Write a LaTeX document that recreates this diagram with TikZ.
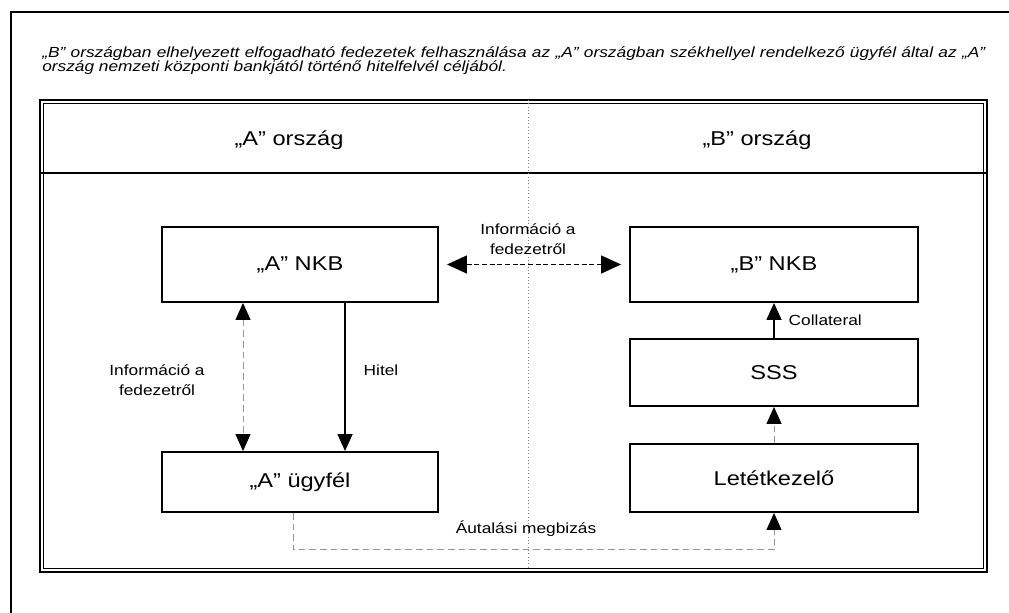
\documentclass[tikz,border=0pt]{standalone}
\usepackage{fontspec}
\setmainfont{Liberation Sans}[FakeStretch=1.18]
\usetikzlibrary{arrows.meta}

\tikzset{
  box/.style={draw, line width=1.4pt, inner sep=0pt, font=\fontsize{15}{18}\selectfont},
  head/.style={font=\fontsize{15}{18}\selectfont},
  lbl/.style={font=\fontsize{11}{15}\selectfont, align=center},
  bigtip/.style={{Triangle[length=15pt,width=13.5pt]}-{Triangle[length=15pt,width=13.5pt]}},
  tip/.style={-{Triangle[length=12.75pt,width=11.25pt,color=black]}},
  solidarrow/.style={tip, line width=1.1pt},
  grayarrow/.style={tip, line width=0.75pt, draw=gray!85, dash pattern=on 5pt off 3pt},
}

\begin{document}
\begin{tikzpicture}[x=0.75pt,y=-0.75pt]

        \useasboundingbox (0,0) rectangle (1009,613);

        % outer frame
        \draw[line width=2.2pt] (11,613) -- (11,12) -- (1009,12);

        % title
        \node[anchor=north west, inner sep=0pt, text width=707.25pt, align=justify,
              font=\fontsize{11}{11}\selectfont\itshape] (title) at (42,46)
          {„B” országban elhelyezett elfogadható fedezetek felhasználása az „A” országban székhellyel rendelkező ügyfél által az „A”\linebreak
           ország nemzeti központi bankjától történő hitelfelvél céljából.};

        % inner frame
        \draw[line width=1.8pt] (40,100) rectangle (987,572);
        \draw[line width=0.6pt] (43.5,103.5) rectangle (983.5,568.5);
        \draw[line width=2.2pt] (40,173) -- (987,173);
        \draw[gray, line width=0.5pt, dotted] (528,100) -- (528,567);

        \node[head] (countryA) at (289,140) {„A” ország};
        \node[head] (countryB) at (757,140) {„B” ország};

        % boxes
        \node[box, minimum width=207pt, minimum height=56.25pt] (nkbA) at (300,264.5) {„A” NKB};
        \node[box, minimum width=216pt, minimum height=56.25pt] (nkbB) at (774,264.5) {„B” NKB};
        \node[box, minimum width=216pt, minimum height=50.25pt] (sss) at (774,372.5) {SSS};
        \node[box, minimum width=216pt, minimum height=51pt] (letet) at (774,478) {Letétkezelő};
        \node[box, minimum width=207pt, minimum height=45pt] (clientA) at (300,482) {„A” ügyfél};

        % connectors
        \draw[bigtip, line width=1.1pt, dash pattern=on 3.75pt off 2pt, shorten <=6pt, shorten >=6pt]
          (nkbA.east) -- (nkbB.west);
        \draw[grayarrow, {Triangle[length=12.75pt,width=11.25pt,color=black]}-{Triangle[length=12.75pt,width=11.25pt,color=black]}]
          ([xshift=-42.75pt]nkbA.south) -- ([xshift=-42.75pt]clientA.north);
        \draw[solidarrow] ([xshift=33.75pt]nkbA.south) -- ([xshift=33.75pt]clientA.north);
        \draw[solidarrow] (sss.north) -- (nkbB.south);
        \draw[grayarrow] (letet.north) -- (sss.south);
        \draw[grayarrow] ([xshift=-5.25pt]clientA.south) -- ++(0,37) -| (letet.south);

        % labels
        \node[lbl] (infoTop) at (528,239) {Információ a\\fedezetről};
        \node[lbl] (infoLeft) at (157,380) {Információ a\\fedezetről};
        \node[lbl, anchor=west] (credit) at (359,370) {Hitel};
        \node[lbl, anchor=west] (coll) at (784,320) {Collateral};
        \node[lbl] (transfer) at (526,529) {Áutalási megbizás};

      \end{tikzpicture}
\end{document}
